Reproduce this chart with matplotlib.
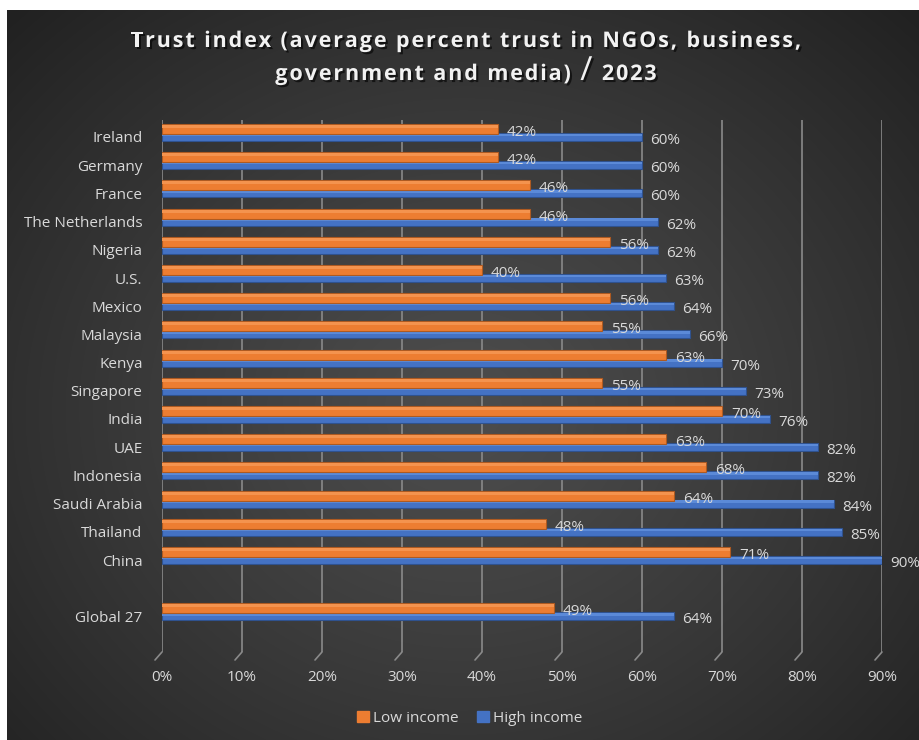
import numpy as np
import matplotlib
matplotlib.use("Agg")
import matplotlib.pyplot as plt
from matplotlib import patheffects as pe
from matplotlib.transforms import blended_transform_factory

# ---- data ----
countries = ["Ireland", "Germany", "France", "The Netherlands", "Nigeria", "U.S.",
             "Mexico", "Malaysia", "Kenya", "Singapore", "India", "UAE",
             "Indonesia", "Saudi Arabia", "Thailand", "China", "", "Global 27"]
low_income = [42, 42, 46, 46, 56, 40, 56, 55, 63, 55, 70, 63, 68, 64, 48, 71, None, 49]
high_income = [60, 60, 60, 62, 62, 63, 64, 66, 70, 73, 76, 82, 82, 84, 85, 90, None, 64]
x_ticks = [0, 10, 20, 30, 40, 50, 60, 70, 80, 90]
x_tick_labels = ["0%", "10%", "20%", "30%", "40%", "50%", "60%", "70%", "80%", "90%"]
series_names = ["Low income", "High income"]
title_line1 = "Trust index (average percent trust in NGOs, business,"
title_line2a = "government and media) "
title_slash = "/"
title_line2b = " 2023"

ORANGE = "#ED7D31"
BLUE = "#4472C4"
TEXT = "#d9d9d9"
FONT = "Open Sans"
FS = 11

W, H = 920, 740
fig = plt.figure(figsize=(W / 100, H / 100), dpi=100)
fig.patch.set_facecolor("white")

# dark radial background panel
bg = fig.add_axes([7 / W, 0, 1 - 7 / W, 1 - 10 / H])
bg.set_axis_off()
yy, xx = np.mgrid[0:730, 0:913]
cx, cy = 456, 400
r = np.sqrt(((xx - cx) / 640.0) ** 2 + ((yy - cy) / 560.0) ** 2)
val = 0.30 - 0.17 * np.clip(r, 0, 1) ** 1.2
bg.imshow(np.dstack([val, val, val]), aspect="auto", extent=[0, 1, 0, 1])
bg.set_xlim(0, 1)
bg.set_ylim(0, 1)

# plotting area in pixel terms
x0, x1 = 162, 882
ytop, ybot = 120, 652
row0, step = 137, 28.2
ax = fig.add_axes([x0 / W, 1 - ybot / H, (x1 - x0) / W, (ybot - ytop) / H])
ax.set_facecolor("none")
ax.set_xlim(0, 90)
ax.set_ylim((ybot - row0) / step, (ytop - row0) / step)
for s in ax.spines.values():
    s.set_visible(False)

# back-wall gridlines with a short floor segment
tr = blended_transform_factory(ax.transData, ax.transAxes)
for xv in x_ticks:
    ax.axvline(xv, color="#8a8a8a", lw=1.2, zorder=1)
    ax.annotate("", xy=(xv, 0), xycoords=tr,
                xytext=(-7, -8), textcoords="offset pixels",
                arrowprops=dict(arrowstyle="-", color="#8a8a8a", lw=1.2,
                                shrinkA=0, shrinkB=0))

rows = np.arange(len(countries))
px = 1.0 / step
oh, bh = 10 * px, 8 * px
for i, (lo, hi) in enumerate(zip(low_income, high_income)):
    if lo is None:
        continue
    # high income (behind)
    ax.barh(i, hi, height=bh, color=BLUE, edgecolor="#2f528f", lw=0.8, zorder=3)
    ax.barh(i - bh * 0.25, hi, height=bh * 0.3, color="#5b8ad8", lw=0, zorder=3)
    # low income (front)
    ax.barh(i - 8 * px, lo, height=oh, color=ORANGE, edgecolor="#ae5a21", lw=0.8, zorder=4)
    ax.barh(i - 8 * px - oh * 0.25, lo, height=oh * 0.3, color="#f4934e", lw=0, zorder=4)
    ax.annotate(f"{lo}%", xy=(lo, i - 4.5 * px), xytext=(9, 0), textcoords="offset pixels",
                ha="left", va="center", color=TEXT, fontsize=FS, family=FONT, zorder=5)
    ax.annotate(f"{hi}%", xy=(hi, i + 3.5 * px), xytext=(8, 0), textcoords="offset pixels",
                ha="left", va="center", color=TEXT, fontsize=FS, family=FONT, zorder=5)

ax.set_yticks(rows)
ax.set_yticklabels(countries, family=FONT, fontsize=FS, color=TEXT)
ax.tick_params(axis="y", length=0, pad=14)
ax.set_xticks(x_ticks)
ax.set_xticklabels(x_tick_labels, family=FONT, fontsize=FS, color=TEXT)
ax.tick_params(axis="x", length=0, pad=13)

# title, drawn with extra letter spacing
renderer = fig.canvas.get_renderer()
title_fx = [pe.withSimplePatchShadow(offset=(1.5, -1.5), shadow_rgbFace="black", alpha=0.6)]


def char_width(ch, props):
    a = fig.text(0, 0, "|" + ch + "|", **props)
    b = fig.text(0, 0, "||", **props)
    w = a.get_window_extent(renderer).width - b.get_window_extent(renderer).width
    a.remove()
    b.remove()
    return w


def spaced_title(x_center, y_base, parts, spacing):
    chars = []
    for text, props in parts:
        for ch in text:
            chars.append((ch, props, char_width(ch, props)))
    total = sum(c[2] for c in chars) + spacing * (len(chars) - 1)
    x = x_center - total / 2
    for ch, props, w in chars:
        if ch.strip():
            fig.text(x / W, 1 - y_base / H, ch, ha="left", va="baseline",
                     path_effects=title_fx, **props)
        x += w + spacing


bold = dict(family=FONT, fontsize=15.5, fontweight="bold", color="#f2f2f2")
slash = dict(family=FONT, fontsize=24, fontweight="normal", color="#f2f2f2")
spaced_title(466, 47, [(title_line1, bold)], 1.9)
spaced_title(466, 80, [(title_line2a, bold), (title_slash, slash), (title_line2b, bold)], 1.9)

# legend
handles = [plt.Rectangle((0, 0), 1, 1, color=ORANGE), plt.Rectangle((0, 0), 1, 1, color=BLUE)]
leg = fig.legend(handles, series_names, loc="center", bbox_to_anchor=(470 / W, 1 - 718 / H),
                 ncol=2, frameon=False, handlelength=0.75, handleheight=0.75,
                 handletextpad=0.3, columnspacing=1.2,
                 prop={"family": FONT, "size": FS})
for t in leg.get_texts():
    t.set_color(TEXT)

fig.savefig("out.png", dpi=100)
